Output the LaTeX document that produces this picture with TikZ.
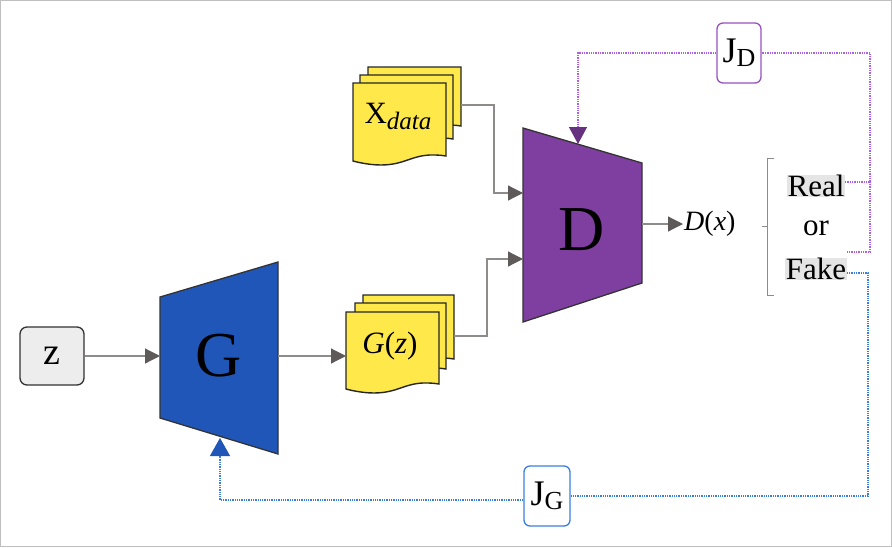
\documentclass[tikz,border=0pt]{standalone}
\usepackage{fontspec}
\setmainfont{Liberation Serif}
\usetikzlibrary{arrows.meta}
\definecolor{yel}{HTML}{FFE84A}
\definecolor{gblue}{HTML}{1F56B8}
\definecolor{dpur}{HTML}{7F3FA0}
\definecolor{arr}{HTML}{5F5A5A}
\definecolor{lpur}{HTML}{B060E0}
\definecolor{lblue}{HTML}{3A7FE0}
\newcommand\docpiece[4]{% x y w h
  \draw[fill=yel,draw=black!85,line width=1.4pt] (#1,#2) -- ++(#3,0) -- ++(0,#4-6)
    .. controls ++(-#3*0.35,-5) and ++(#3*0.3,0) .. (#1+#3*0.3,#2+#4+3)
    .. controls ++(-#3*0.15,0) and ++(0,0) .. (#1,#2+#4-1) -- cycle;}
\begin{document}
\begin{tikzpicture}[x=1pt,y=-1pt,
  flow/.style={draw=arr!70,line width=1.2pt,-{Triangle[length=15pt,width=15pt,color=arr]}},
  lab/.style={inner sep=1pt,font=\fontsize{31}{33}\selectfont},
  dot/.style={densely dotted,line width=1.3pt}]
\useasboundingbox (0,0) rectangle (892,547);
\draw[black!25,line width=1pt] (0.5,0.5) rectangle (891.5,546.5);
% z
\node[draw=black!80,fill=black!7,rounded corners=7pt,line width=1.3pt,minimum width=64pt,minimum height=58pt,font=\fontsize{38}{38}\selectfont] (z) at (52,356) {z};
% G
\draw[fill=gblue,draw=black!80,line width=1.3pt] (160,297) -- (278,262) -- (278,454) -- (160,418) -- cycle;
\node[font=\fontsize{64}{64}\selectfont] (G) at (219,356) {G};
\coordinate (Gl) at (160,356); \coordinate (Gr) at (278,356);
% D
\draw[fill=dpur,draw=black!80,line width=1.3pt] (523,128) -- (642,163) -- (642,283) -- (523,322) -- cycle;
\node[font=\fontsize{64}{64}\selectfont] (D) at (582,230) {D};
\coordinate (Dr) at (642,224);
% docs
\docpiece{363}{295}{91}{70}\docpiece{355}{303}{91}{72}\docpiece{346}{312}{93}{78}
\node[lab] (Gz) at (390,346) {\textit{G}(\textit{z})};
\docpiece{368}{67}{93}{65}\docpiece{360}{75}{93}{70}\docpiece{353}{83}{93}{79}
\node[lab] (X) at (398,116) {X\raisebox{-6pt}{\fontsize{25}{25}\selectfont\textit{data}}};
\coordinate (Gzr) at (454,336); \coordinate (Xr) at (461,105);
% flows
\draw[flow] (z.east) -- (Gl);
\draw[flow] (Gr) -- (346,356);
\draw[flow] (Xr) -- (494,105) |- (523,193);
\draw[flow] (Gzr) -- (487,336) |- (523,259);
\draw[flow] (Dr) -- (683,224);
\node[font=\fontsize{28}{28}\selectfont,anchor=west,inner sep=0pt] (Dx) at (684,224) {\textit{D}(\textit{x})};
% bracket
\draw[black!45,line width=1pt] (774,158) -- (767,158) -- (767,295) -- (774,295) (767,226) -- (762,226);
\node[lab,fill=black!10,inner sep=0.5pt] (R) at (816,186) {Real};
\node[lab] (or) at (816,228) {or};
\node[lab,fill=black!10,inner sep=0.5pt] (F) at (816,269) {Fake};
% JD
\node[draw=lpur!85!black,rounded corners=6pt,fill=white,minimum width=44pt,minimum height=60pt,font=\fontsize{36}{36}\selectfont,line width=1.3pt,inner sep=1pt] (JD) at (739,53) {J\raisebox{-4pt}{\fontsize{26}{26}\selectfont D}};
\draw[lpur,dot] (R.east|-0,182) -- (870,182) |- (JD.east);
\draw[lpur,dot] (F.east|-0,252) -- (870,252) -- (870,182);
\draw[lpur,dot,-{Triangle[length=17pt,width=18pt,color=dpur!80!black]}] (JD.west) -| (578,144);
% JG
\node[draw=lblue,rounded corners=6pt,fill=white,minimum width=46pt,minimum height=60pt,font=\fontsize{36}{36}\selectfont,line width=1.3pt,inner sep=1pt] (JG) at (547,496) {J\raisebox{-4pt}{\fontsize{26}{26}\selectfont G}};
\draw[lblue,dot] (F.east|-0,273) -- (868,273) |- (JG.east);
\draw[lblue,dot,-{Triangle[length=18pt,width=20pt,color=gblue]}] (JG.west|-0,500) -| (220,438);
\end{tikzpicture}
\end{document}
